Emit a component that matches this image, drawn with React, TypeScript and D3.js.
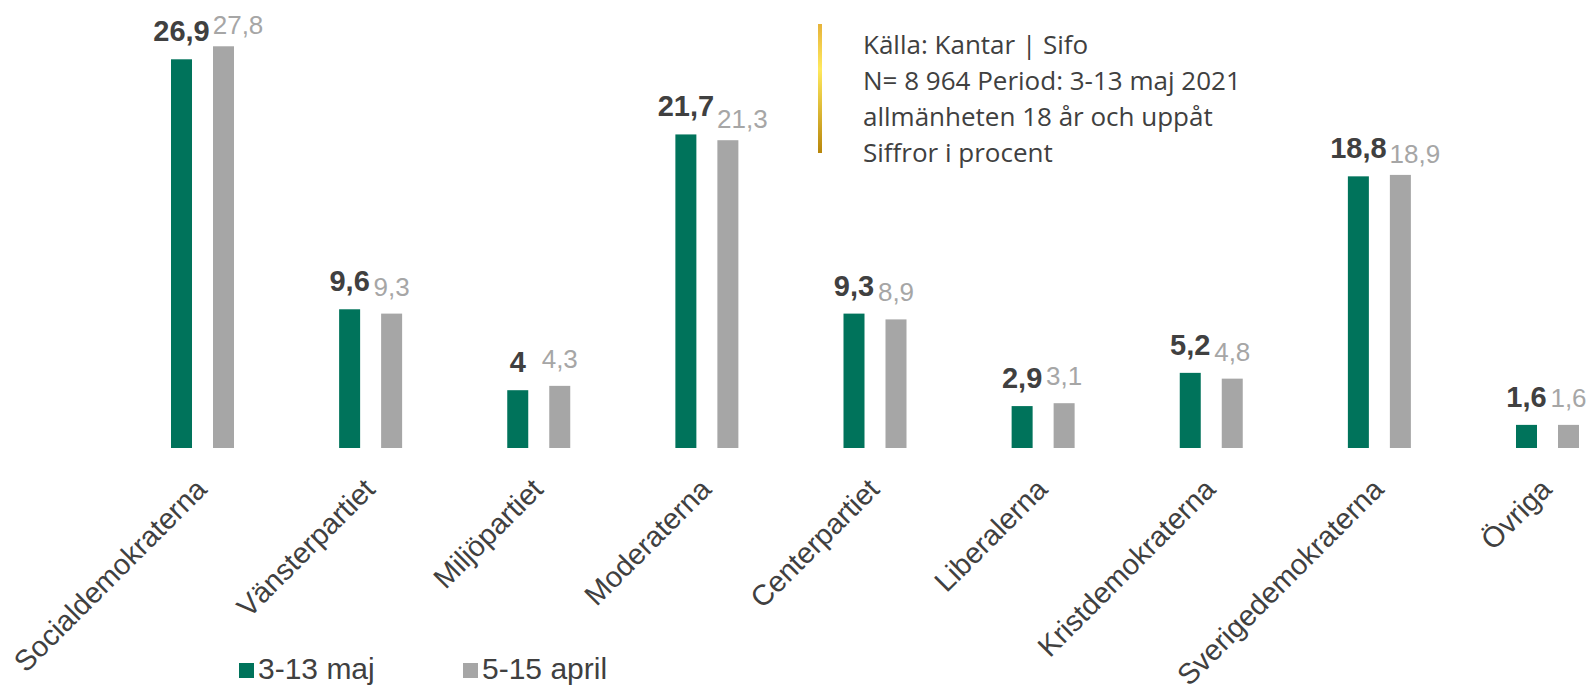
import React, { useEffect, useRef } from "react";
import * as d3 from "d3";

const categories = [
  "Socialdemokraterna",
  "Vänsterpartiet",
  "Miljöpartiet",
  "Moderaterna",
  "Centerpartiet",
  "Liberalerna",
  "Kristdemokraterna",
  "Sverigedemokraterna",
  "Övriga",
];
const valuesMay = [26.9, 9.6, 4, 21.7, 9.3, 2.9, 5.2, 18.8, 1.6];
const valuesApril = [27.8, 9.3, 4.3, 21.3, 8.9, 3.1, 4.8, 18.9, 1.6];
const seriesNames = ["3-13 maj", "5-15 april"];
const noteLines = [
  "Källa: Kantar | Sifo",
  "N= 8 964 Period: 3-13 maj 2021",
  "allmänheten 18 år och uppåt",
  "Siffror i procent",
];

const W = 1588;
const H = 685;
const GREEN = "#00735B";
const GRAY = "#A6A6A6";
const DARK = "#404040";
const FONT = "'Liberation Sans', Arial, sans-serif";

export default function App() {
  const ref = useRef<SVGSVGElement | null>(null);

  useEffect(() => {
    const svg = d3.select(ref.current);
    svg.selectAll("*").remove();

    const locale = d3.formatLocale({
      decimal: ",",
      thousands: " ",
      grouping: [3],
      currency: ["", " kr"],
    });
    const fmt = locale.format("");

    const baseY = 448;
    const x = d3
      .scaleBand<string>()
      .domain(categories)
      .range([118.44, 1631.56])
      .paddingInner(0)
      .paddingOuter(0);
    const xi = d3
      .scaleBand<string>()
      .domain(["a", "b"])
      .range([-31.5, 31.5])
      .paddingInner(0.5)
      .paddingOuter(0);
    const y = d3.scaleLinear().domain([0, 30]).range([baseY, baseY - 433.5]);

    const defs = svg.append("defs");
    const grad = defs
      .append("linearGradient")
      .attr("id", "goldbar")
      .attr("x1", 0)
      .attr("y1", 0)
      .attr("x2", 0)
      .attr("y2", 1);
    grad.append("stop").attr("offset", "0%").attr("stop-color", "#E6B33A");
    grad.append("stop").attr("offset", "35%").attr("stop-color", "#FFE95E");
    grad.append("stop").attr("offset", "100%").attr("stop-color", "#B8860B");

    const groups = svg
      .append("g")
      .selectAll("g")
      .data(categories)
      .join("g")
      .attr("transform", (c) => `translate(${x(c)! + x.bandwidth() / 2},0)`);

    groups
      .append("rect")
      .attr("x", xi("a")!)
      .attr("width", xi.bandwidth())
      .attr("y", (_, i) => y(valuesMay[i]))
      .attr("height", (_, i) => baseY - y(valuesMay[i]))
      .attr("fill", GREEN);

    groups
      .append("rect")
      .attr("x", xi("b")!)
      .attr("width", xi.bandwidth())
      .attr("y", (_, i) => y(valuesApril[i]))
      .attr("height", (_, i) => baseY - y(valuesApril[i]))
      .attr("fill", GRAY);

    // value labels
    groups.each(function (c, i) {
      const g = d3.select(this);
      const gc = xi("a")! + xi.bandwidth() / 2;
      const grc = xi("b")! + xi.bandwidth() / 2;
      const t1 = g
        .append("text")
        .attr("x", gc)
        .attr("y", y(valuesMay[i]) - 18)
        .attr("text-anchor", "middle")
        .attr("font-family", FONT)
        .attr("font-weight", "bold")
        .attr("font-size", 29)
        .attr("fill", DARK)
        .text(fmt(valuesMay[i]));
      const w1 = (t1.node() as SVGTextElement).getComputedTextLength();
      const end1 = gc + w1 / 2;
      const t2 = g
        .append("text")
        .attr("font-family", FONT)
        .attr("font-size", 26)
        .attr("fill", GRAY)
        .attr("text-anchor", "start")
        .text(fmt(valuesApril[i]));
      const w2 = (t2.node() as SVGTextElement).getComputedTextLength();
      const centered = grc - w2 / 2;
      const minStart = end1 + 3;
      const pushed = minStart > centered + 1;
      t2.attr("x", Math.max(centered, minStart)).attr(
        "y",
        y(valuesApril[i]) - (pushed ? 12 : 18)
      );
    });

    // category labels
    groups
      .append("text")
      .attr("transform", `translate(6,${baseY + 43}) rotate(-45)`)
      .attr("text-anchor", "end")
      .attr("font-family", FONT)
      .attr("font-size", 29)
      .attr("fill", DARK)
      .text((c) => c);

    // legend
    const legend = svg.append("g");
    const legendX = [239, 463];
    const legendColors = [GREEN, GRAY];
    seriesNames.forEach((name, i) => {
      legend
        .append("rect")
        .attr("x", legendX[i])
        .attr("y", 663)
        .attr("width", 15)
        .attr("height", 15)
        .attr("fill", legendColors[i]);
      legend
        .append("text")
        .attr("x", legendX[i] + 19)
        .attr("y", 679)
        .attr("font-family", FONT)
        .attr("font-size", 30)
        .attr("fill", DARK)
        .text(name);
    });

    // note
    svg
      .append("rect")
      .attr("x", 818)
      .attr("y", 24)
      .attr("width", 4)
      .attr("height", 129)
      .attr("fill", "url(#goldbar)");
    svg
      .append("g")
      .selectAll("text")
      .data(noteLines)
      .join("text")
      .attr("x", 863)
      .attr("y", (_, i) => 53.5 + i * 36)
      .attr("font-family", "'Open Sans', 'Noto Sans', sans-serif")
      .attr("font-size", 26)
      .attr("fill", DARK)
      .text((d) => d);
  }, []);

  return (
    <svg
      ref={ref}
      width={W}
      height={H}
      style={{ position: "absolute", left: 0, top: 0, background: "#fff" }}
    />
  );
}
